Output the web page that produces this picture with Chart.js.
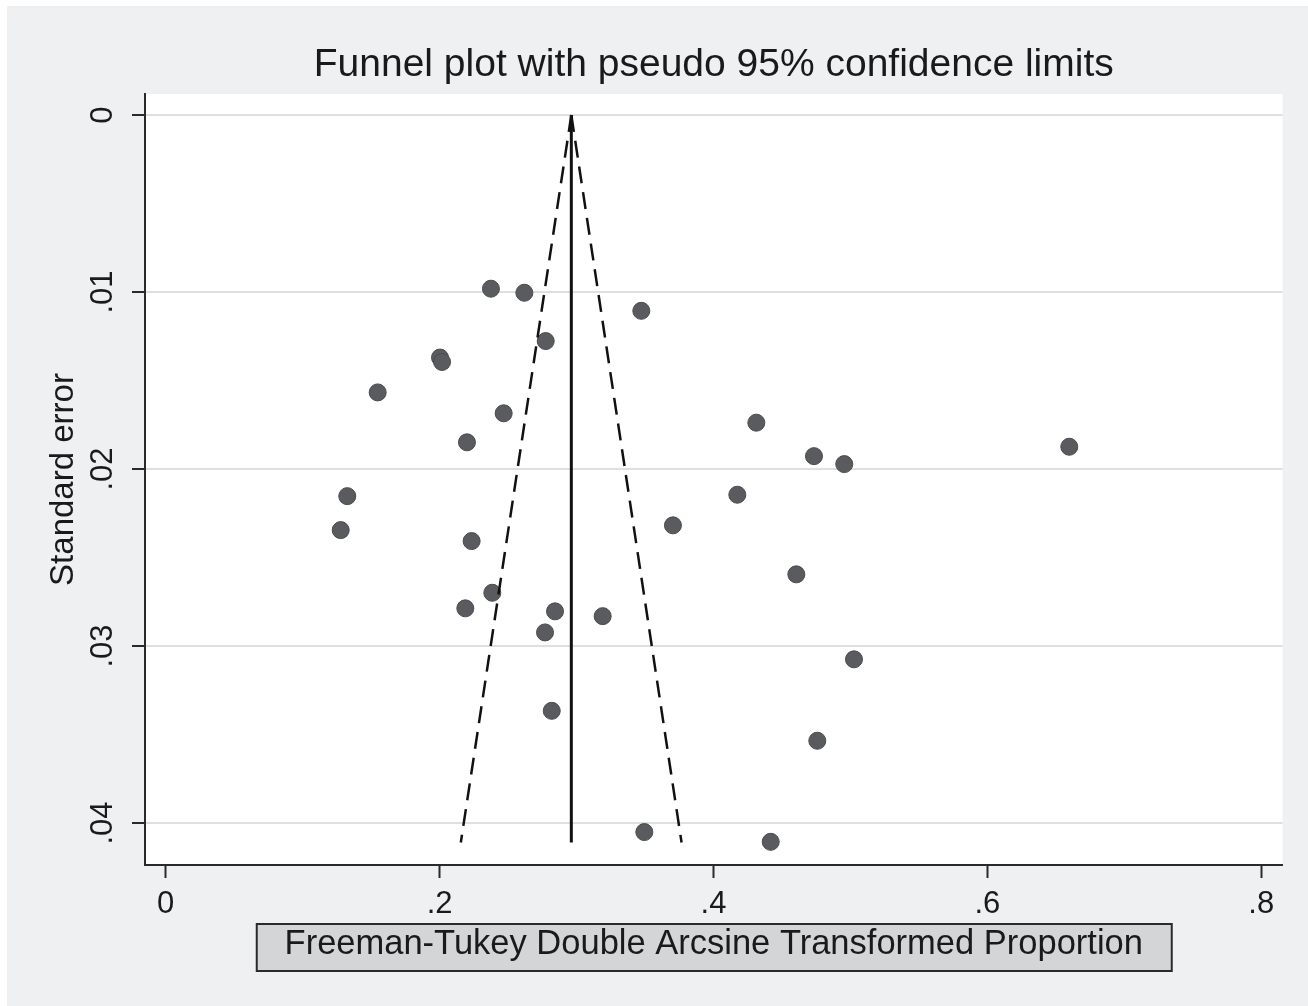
<!DOCTYPE html>
<html>
<head>
<meta charset="utf-8">
<title>Funnel plot</title>
<script src="https://cdn.jsdelivr.net/npm/chart.js@4/dist/chart.umd.min.js"></script>
<style>
  html, body { margin: 0; padding: 0; background: #ffffff; }
  canvas { display: block; }
</style>
</head>
<body>
<canvas id="funnel" width="1308" height="1006"></canvas>
<script>
// study estimates (transformed proportion) and their standard errors
const effect = [
  0.2375, 0.2619, 0.3473, 0.2775, 0.2003, 0.2018, 0.1548, 0.2468, 0.4313, 0.2200,
  0.6598, 0.4734, 0.4955, 0.1326, 0.4174, 0.1278, 0.3704, 0.2234, 0.4605, 0.2385,
  0.2188, 0.2843, 0.3191, 0.2770, 0.5026, 0.2819, 0.4758, 0.3495, 0.4418
];
const stdErr = [
  0.00981, 0.01004, 0.01106, 0.01277, 0.01370, 0.01395, 0.01567, 0.01685, 0.01738, 0.01849,
  0.01874, 0.01927, 0.01972, 0.02153, 0.02145, 0.02345, 0.02318, 0.02407, 0.02595, 0.02699,
  0.02787, 0.02804, 0.02831, 0.02923, 0.03075, 0.03366, 0.03535, 0.04051, 0.04106
];

// pooled estimate and pseudo 95% limits
const limitSe = [0, 0.0411];
const pooledLine = [0.2962, 0.2962];
const lowerLimit = [0.2962, 0.2155];
const upperLimit = [0.2962, 0.3767];

const xTicks = [0, 0.2, 0.4, 0.6, 0.8];
const xTickLabels = ["0", ".2", ".4", ".6", ".8"];
const yTicks = [0, 0.01, 0.02, 0.03, 0.04];
const yTickLabels = ["0", ".01", ".02", ".03", ".04"];

const FONT = "'Liberation Sans', Arial, Helvetica, sans-serif";
const INK = "#1a1a1a";

const toPoints = (xs, ys) => xs.map((v, i) => ({ x: v, y: ys[i] }));

// gray page, white plot region, shaded box behind the x title
const backdrop = {
  id: "backdrop",
  beforeDraw(chart) {
    const { ctx, chartArea: a, scales } = chart;
    ctx.save();
    ctx.fillStyle = "#ffffff";
    ctx.fillRect(0, 0, chart.width, chart.height);
    ctx.fillStyle = "#eff0f2";
    ctx.fillRect(7, 6, chart.width - 7, chart.height - 6);
    ctx.fillStyle = "#ffffff";
    ctx.fillRect(a.left, a.top, a.right - a.left, a.bottom - a.top);

    const cx = (scales.x.left + scales.x.right) / 2;
    ctx.fillStyle = "#d4d5d7";
    ctx.fillRect(cx - 457, 924, 915, 47);
    ctx.strokeStyle = "#2a2a2a";
    ctx.lineWidth = 2;
    ctx.strokeRect(cx - 457, 924, 915, 47);
    ctx.restore();
  }
};

const lineStyle = {
  type: "scatter",
  showLine: true,
  pointRadius: 0,
  borderColor: "#111111",
  fill: false
};

new Chart(document.getElementById("funnel"), {
  type: "scatter",
  data: {
    datasets: [
      { ...lineStyle, data: toPoints(pooledLine, limitSe), borderWidth: 3 },
      { ...lineStyle, data: toPoints(lowerLimit, limitSe), borderWidth: 2.5, borderDash: [17, 9] },
      { ...lineStyle, data: toPoints(upperLimit, limitSe), borderWidth: 2.5, borderDash: [17, 9] },
      {
        data: toPoints(effect, stdErr),
        pointRadius: 8.5,
        pointBackgroundColor: "#5a5b5e",
        pointBorderColor: "#4a4b4e",
        pointBorderWidth: 1
      }
    ]
  },
  options: {
    responsive: false,
    animation: false,
    events: [],
    layout: { autoPadding: false, padding: { left: 0, right: 25.5, top: 0, bottom: 0 } },
    plugins: {
      legend: { display: false },
      tooltip: { enabled: false },
      title: {
        display: true,
        fullSize: false,
        text: "Funnel plot with pseudo 95% confidence limits",
        color: INK,
        font: { family: FONT, size: 39, weight: "normal" },
        padding: { top: 41.6, bottom: 5.6 }
      }
    },
    scales: {
      x: {
        type: "linear",
        min: -0.0151,
        max: 0.8155,
        afterBuildTicks: (s) => { s.ticks = xTicks.map((v) => ({ value: v })); },
        afterFit: (s) => { s.height = 141; },
        ticks: {
          callback: (v) => xTickLabels[xTicks.indexOf(v)],
          color: INK,
          font: { family: FONT, size: 31 },
          padding: 8,
          maxRotation: 0
        },
        grid: { drawOnChartArea: false, drawTicks: true, tickLength: 13, tickColor: "#2a2a2a", tickWidth: 2 },
        border: { display: true, color: "#2a2a2a", width: 2 },
        title: {
          display: true,
          text: "Freeman-Tukey Double Arcsine Transformed Proportion",
          color: INK,
          font: { family: FONT, size: 34.5 },
          padding: { top: 0, bottom: 40.8 }
        }
      },
      y: {
        type: "linear",
        reverse: true,
        min: -0.00119,
        max: 0.04237,
        afterBuildTicks: (s) => { s.ticks = yTicks.map((v) => ({ value: v })); },
        afterFit: (s) => { s.width = 145; },
        ticks: {
          callback: (v) => yTickLabels[yTicks.indexOf(v)],
          color: INK,
          font: { family: FONT, size: 31 },
          padding: 6.5,
          minRotation: 90,
          maxRotation: 90,
          crossAlign: "center"
        },
        grid: { color: "#dedfe0", lineWidth: 2, tickLength: 13, tickColor: "#2a2a2a", tickWidth: 2 },
        border: { display: true, color: "#2a2a2a", width: 2 },
        title: {
          display: true,
          text: "Standard error",
          color: INK,
          font: { family: FONT, size: 33 },
          padding: { top: 44, bottom: 0 }
        }
      }
    }
  },
  plugins: [backdrop]
});
</script>
</body>
</html>
